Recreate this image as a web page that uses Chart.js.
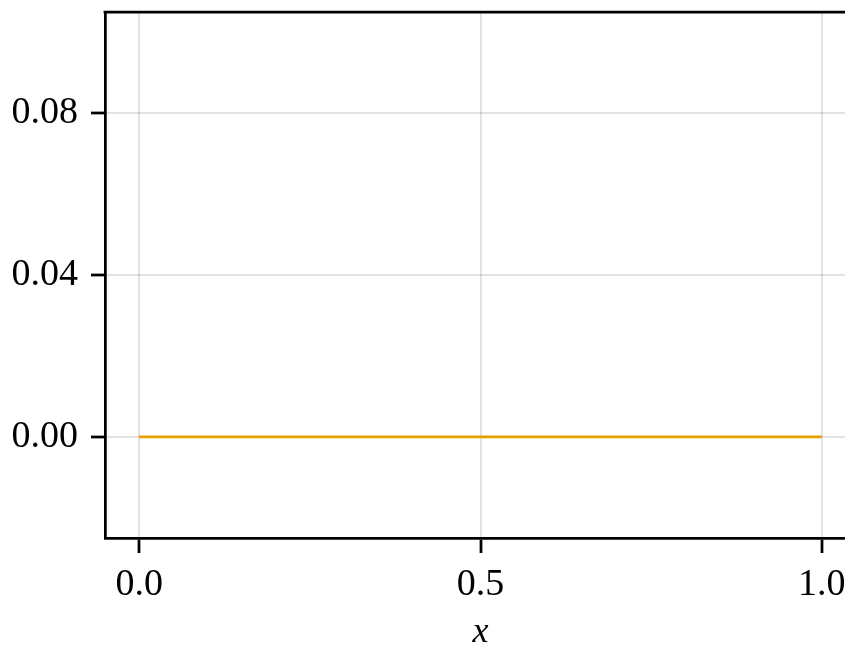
<!DOCTYPE html>
<html>
<head>
<meta charset="utf-8">
<script src="https://cdn.jsdelivr.net/npm/chart.js@4"></script>
<style>
  html, body { margin: 0; padding: 0; background: #fff; overflow: hidden; }
  #wrap { width: 845px; height: 646px; overflow: hidden; }
</style>
</head>
<body>
<div id="wrap"><canvas id="myChart" width="860" height="654"></canvas></div>
<script>
const xValues = [0, 1];
const yValues = [0, 0];
const xTicks = [0, 0.5, 1];
const yTicks = [0, 0.04, 0.08];

const serif = "'Liberation Serif', 'Times New Roman', serif";

// frame line along the top of the plot area
const topSpine = {
    id: 'topSpine',
    afterDraw(chart) {
        const {ctx, chartArea} = chart;
        ctx.save();
        ctx.strokeStyle = '#000';
        ctx.lineWidth = 2.75;
        ctx.beginPath();
        ctx.moveTo(chartArea.left - 1.4, chartArea.top);
        ctx.lineTo(chart.width, chartArea.top);
        ctx.stroke();
        ctx.restore();
    }
};

const data = {
    datasets: [{
        data: xValues.map((x, i) => ({x: x, y: yValues[i]})),
        borderColor: '#E69F00',
        borderWidth: 2.75,
        pointRadius: 0,
        fill: false,
    }]
};

const config = {
    type: 'line',
    data: data,
    options: {
        responsive: false,
        animation: false,
        devicePixelRatio: 1,
        layout: { padding: { top: 12, right: 4, left: 0, bottom: 0 } },
        plugins: { legend: { display: false }, tooltip: { enabled: false } },
        scales: {
            x: {
                type: 'linear',
                min: -0.05,
                max: 1.05,
                afterBuildTicks: scale => { scale.ticks = xTicks.map(v => ({value: v})); },
                afterFit: scale => {
                    scale.height = 116;
                    scale.paddingLeft = 0;
                    scale.paddingRight = 0;
                },
                grid: {
                    color: 'rgba(0,0,0,0.11)',
                    lineWidth: 2,
                    drawTicks: true,
                    tickLength: 15,
                    tickColor: '#000',
                    tickWidth: 2.75,
                },
                border: { display: true, color: '#000', width: 2.75 },
                ticks: {
                    color: '#000',
                    font: { family: serif, size: 38 },
                    padding: 9,
                    maxRotation: 0,
                    callback: v => v.toFixed(1),
                },
                title: {
                    display: true,
                    text: 'x',
                    color: '#000',
                    font: { family: serif, size: 36, style: 'italic' },
                    padding: { top: 0, bottom: 0 },
                },
            },
            y: {
                type: 'linear',
                min: -0.025,
                max: 0.105,
                afterBuildTicks: scale => { scale.ticks = yTicks.map(v => ({value: v})); },
                afterFit: scale => {
                    scale.width = 105;
                    scale.paddingTop = 0;
                    scale.paddingBottom = 0;
                },
                grid: {
                    color: 'rgba(0,0,0,0.11)',
                    lineWidth: 2,
                    drawTicks: true,
                    tickLength: 14,
                    tickColor: '#000',
                    tickWidth: 2.75,
                },
                border: { display: true, color: '#000', width: 2.75 },
                ticks: {
                    color: '#000',
                    font: { family: serif, size: 38 },
                    padding: 13,
                    callback: v => v.toFixed(2),
                },
            },
        },
    },
    plugins: [topSpine],
};

const myChart = new Chart(document.getElementById('myChart'), config);
</script>
</body>
</html>
